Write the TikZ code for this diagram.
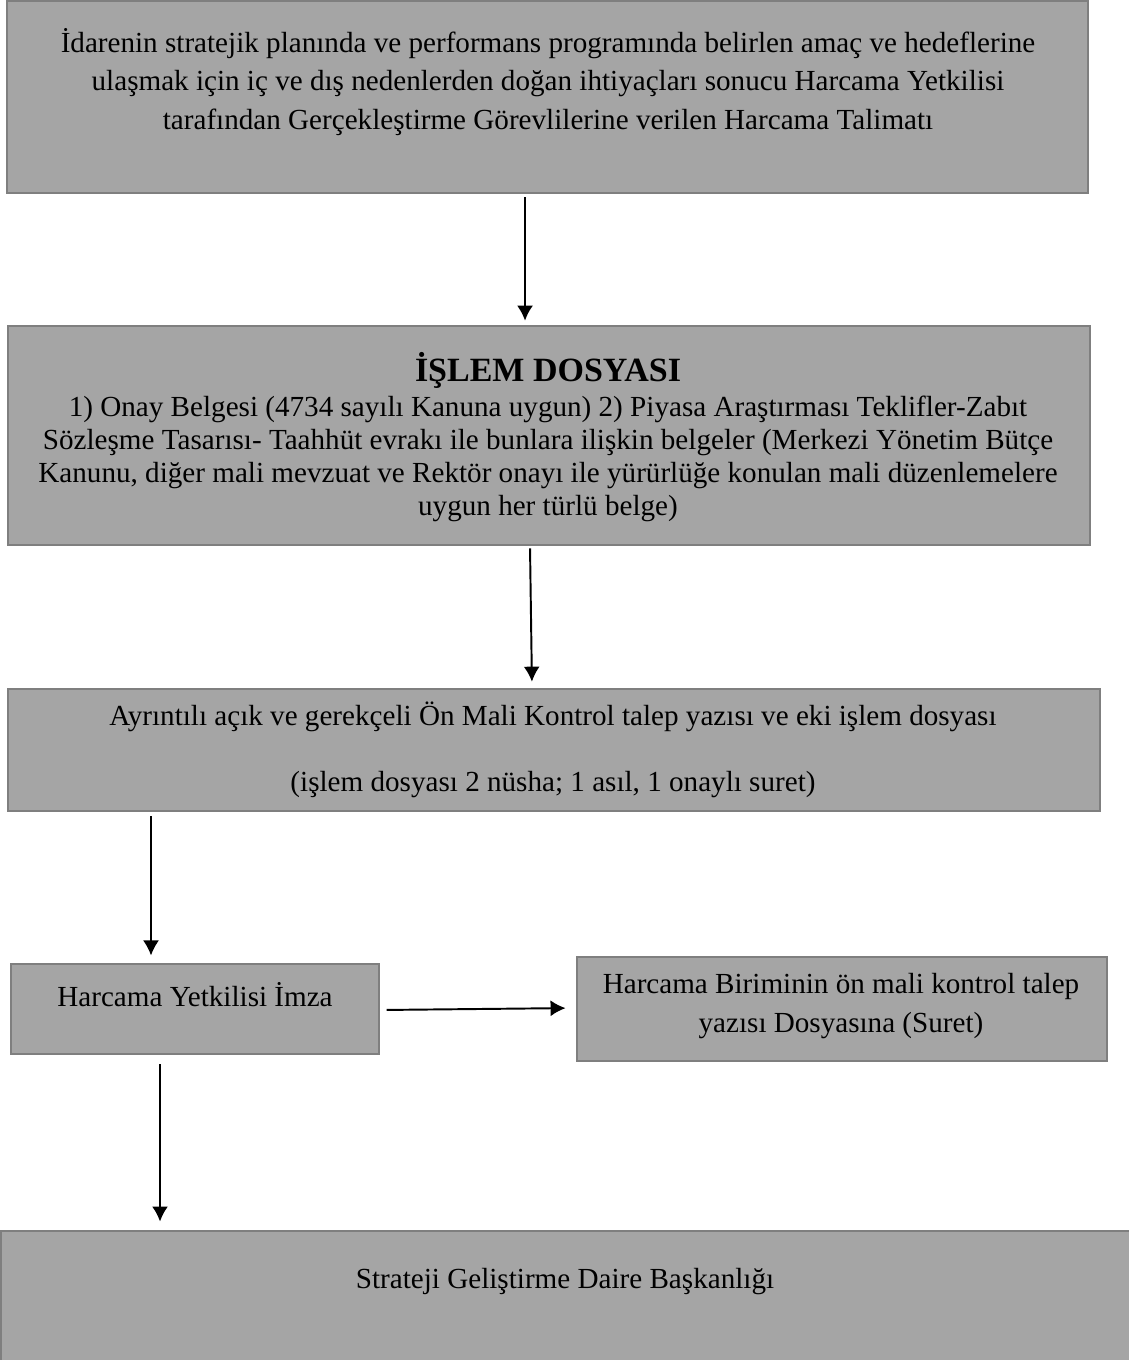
\documentclass[tikz,border=0pt]{standalone}
\usepackage{fontspec}
\setmainfont{Liberation Serif}
\usetikzlibrary{positioning, arrows.meta, calc}

\definecolor{dolgu}{HTML}{A5A5A5}
\definecolor{kenar}{HTML}{7F7F7F}
\newcommand{\pxu}{0.412pt}

\begin{document}
\begin{tikzpicture}[x=\pxu, y=-\pxu,
        kutu/.style={draw=kenar, fill=dolgu, line width=1.2pt, rectangle, inner sep=0pt},
        metin/.style={align=center, inner sep=0pt, font=\fontsize{12}{15.7}\selectfont},
        ok/.style={-{Latex[length=6.2pt, width=6.6pt]}, line width=0.8pt}]

        \useasboundingbox (0,0) rectangle (1129,1360);

        % Kutular
        \node[kutu, minimum width=1081*\pxu, minimum height=192*\pxu] (talimat) at (547.5,97) {};
        \node[kutu, minimum width=1082*\pxu, minimum height=219*\pxu] (islem) at (549,435.5) {};
        \node[kutu, minimum width=1092*\pxu, minimum height=122*\pxu] (ayrinti) at (554,750) {};
        \node[kutu, minimum width=368*\pxu, minimum height=90*\pxu] (imza) at (195,1009) {};
        \node[kutu, minimum width=530*\pxu, minimum height=104*\pxu] (dosya) at (842,1009) {};
        \node[kutu, minimum width=1134*\pxu, minimum height=139*\pxu] (sgdb) at (568,1300.5) {};

        % Metinler
        \node[metin] (talimatyazi) at (548,82) {İdarenin stratejik planında ve performans programında belirlen amaç ve hedeflerine\\
            ulaşmak için iç ve dış nedenlerden doğan ihtiyaçları sonucu Harcama Yetkilisi\\
            tarafından Gerçekleştirme Görevlilerine verilen Harcama Talimatı};
        \node[metin, font=\fontsize{12}{13.6}\selectfont] (islemyazi) at (548,437) {{\fontsize{14}{16}\selectfont\bfseries İŞLEM DOSYASI}\\[1pt]
            1) Onay Belgesi (4734 sayılı Kanuna uygun) 2) Piyasa Araştırması Teklifler-Zabıt\\
            Sözleşme Tasarısı- Taahhüt evrakı ile bunlara ilişkin belgeler (Merkezi Yönetim Bütçe\\
            Kanunu, diğer mali mevzuat ve Rektör onayı ile yürürlüğe konulan mali düzenlemelere\\
            uygun her türlü belge)};
        \node[metin] (ayrintiyazi) at (553,750) {Ayrıntılı açık ve gerekçeli Ön Mali Kontrol talep yazısı ve eki işlem dosyası\\[11.5pt]
            (işlem dosyası 2 nüsha; 1 asıl, 1 onaylı suret)};
        \node[metin] (imzayazi) at (195,995) {Harcama Yetkilisi İmza};
        \node[metin] (dosyayazi) at (841,1006) {Harcama Biriminin ön mali kontrol talep\\[0.4pt]
            yazısı Dosyasına (Suret)};
        \node[metin] (sgdbyazi) at (565,1282) {Strateji Geliştirme Daire Başkanlığı};

        % Oklar
        \draw[ok, shorten <=1.2pt, shorten >=1.6pt] (talimat.south -| 525,0) -- (islem.north -| 525,0);
        \draw[ok, shorten <=0.8pt, shorten >=2.4pt] (islem.south -| 530,0) -- (ayrinti.north -| 532,0);
        \draw[ok, shorten <=1.6pt, shorten >=2.9pt] (ayrinti.south -| 151,0) -- (imza.north -| 151,0);
        \draw[ok, shorten <=2.5pt, shorten >=4.1pt] (imza.east |- 0,1010) -- (dosya.west |- 0,1008);
        \draw[ok, shorten <=3.7pt, shorten >=3.3pt] (imza.south -| 160,0) -- (sgdb.north -| 160,0);
\end{tikzpicture}
\end{document}
